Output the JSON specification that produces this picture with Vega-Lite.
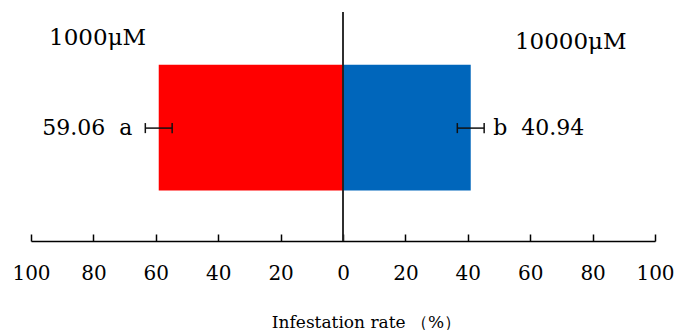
{
  "$schema": "https://vega.github.io/schema/vega-lite/v6.json",
  "width": 624,
  "height": 229,
  "autosize": {"type": "none"},
  "padding": {"left": 31, "top": 12, "right": 30, "bottom": 89},
  "background": "white",
  "config": {"view": {"stroke": null}, "font": "DejaVu Serif"},
  "data": {"values": [
    {"conc": "1000μM", "side": "left", "rate": 59.06, "start": -59.06, "lo": -63.36, "hi": -54.76, "label": "59.06 \u00a0a"},
    {"conc": "10000μM", "side": "right", "rate": 40.94, "start": 40.94, "lo": 36.64, "hi": 45.24, "label": "b \u00a040.94"}
  ]},
  "layer": [
    {
      "mark": {"type": "bar"},
      "encoding": {
        "x": {"field": "start", "type": "quantitative",
          "scale": {"domain": [-100, 100], "nice": false, "zero": false},
          "axis": {"values": [-100, -80, -60, -40, -20, 0, 20, 40, 60, 80, 100],
            "labelExpr": "format(abs(datum.value), 'd')",
            "domainColor": "black", "domainWidth": 1.5,
            "tickColor": "black", "tickWidth": 1.5, "tickSize": -7,
            "labelFontSize": 20, "labelColor": "black", "labelFont": "DejaVu Serif",
            "labelPadding": 29, "labelFlush": false, "labelOverlap": false,
            "grid": false,
            "title": "Infestation rate （%）", "titleFontSize": 17, "titleFontWeight": "normal",
            "titleColor": "black", "titleFont": "DejaVu Serif",
            "titleX": 335, "titleY": 81, "titleBaseline": "middle"}},
        "x2": {"datum": 0},
        "y": {"datum": 22, "type": "quantitative", "scale": {"domain": [0, 100], "nice": false}, "axis": null},
        "y2": {"datum": 77},
        "color": {"field": "conc", "type": "nominal", "scale": {"domain": ["1000μM", "10000μM"], "range": ["#FF0000", "#0066BB"]}, "legend": null}
      }
    },
    {
      "mark": {"type": "rule", "color": "#222222", "strokeWidth": 1.5},
      "encoding": {
        "x": {"datum": 0, "type": "quantitative"},
        "y": {"datum": 0, "type": "quantitative", "axis": null},
        "y2": {"datum": 100}
      }
    },
    {
      "mark": {"type": "rule", "color": "#111111", "strokeWidth": 1.5},
      "encoding": {
        "x": {"field": "lo", "type": "quantitative"},
        "x2": {"field": "hi"},
        "y": {"datum": 49.3, "type": "quantitative", "axis": null}
      }
    },
    {
      "mark": {"type": "rule", "color": "#111111", "strokeWidth": 1.5},
      "encoding": {
        "x": {"field": "lo", "type": "quantitative"},
        "y": {"datum": 47.1, "type": "quantitative", "axis": null},
        "y2": {"datum": 51.5}
      }
    },
    {
      "mark": {"type": "rule", "color": "#111111", "strokeWidth": 1.5},
      "encoding": {
        "x": {"field": "hi", "type": "quantitative"},
        "y": {"datum": 47.1, "type": "quantitative", "axis": null},
        "y2": {"datum": 51.5}
      }
    },
    {
      "transform": [{"filter": "datum.side === 'left'"}],
      "mark": {"type": "text", "align": "right", "baseline": "middle", "dx": -13, "fontSize": 22, "font": "DejaVu Serif", "color": "black"},
      "encoding": {
        "x": {"field": "lo", "type": "quantitative"},
        "y": {"datum": 49.3, "type": "quantitative", "axis": null},
        "text": {"field": "label"}
      }
    },
    {
      "transform": [{"filter": "datum.side === 'right'"}],
      "mark": {"type": "text", "align": "left", "baseline": "middle", "dx": 9, "fontSize": 22, "font": "DejaVu Serif", "color": "black"},
      "encoding": {
        "x": {"field": "hi", "type": "quantitative"},
        "y": {"datum": 49.3, "type": "quantitative", "axis": null},
        "text": {"field": "label"}
      }
    },
    {
      "transform": [{"filter": "datum.side === 'left'"}],
      "mark": {"type": "text", "align": "left", "baseline": "middle", "fontSize": 23, "font": "DejaVu Serif", "color": "black"},
      "encoding": {
        "x": {"datum": -94.2, "type": "quantitative"},
        "y": {"datum": 88.6, "type": "quantitative", "axis": null},
        "text": {"field": "conc"}
      }
    },
    {
      "transform": [{"filter": "datum.side === 'right'"}],
      "mark": {"type": "text", "align": "left", "baseline": "middle", "fontSize": 23, "font": "DejaVu Serif", "color": "black"},
      "encoding": {
        "x": {"datum": 55.1, "type": "quantitative"},
        "y": {"datum": 87, "type": "quantitative", "axis": null},
        "text": {"field": "conc"}
      }
    }
  ]
}
